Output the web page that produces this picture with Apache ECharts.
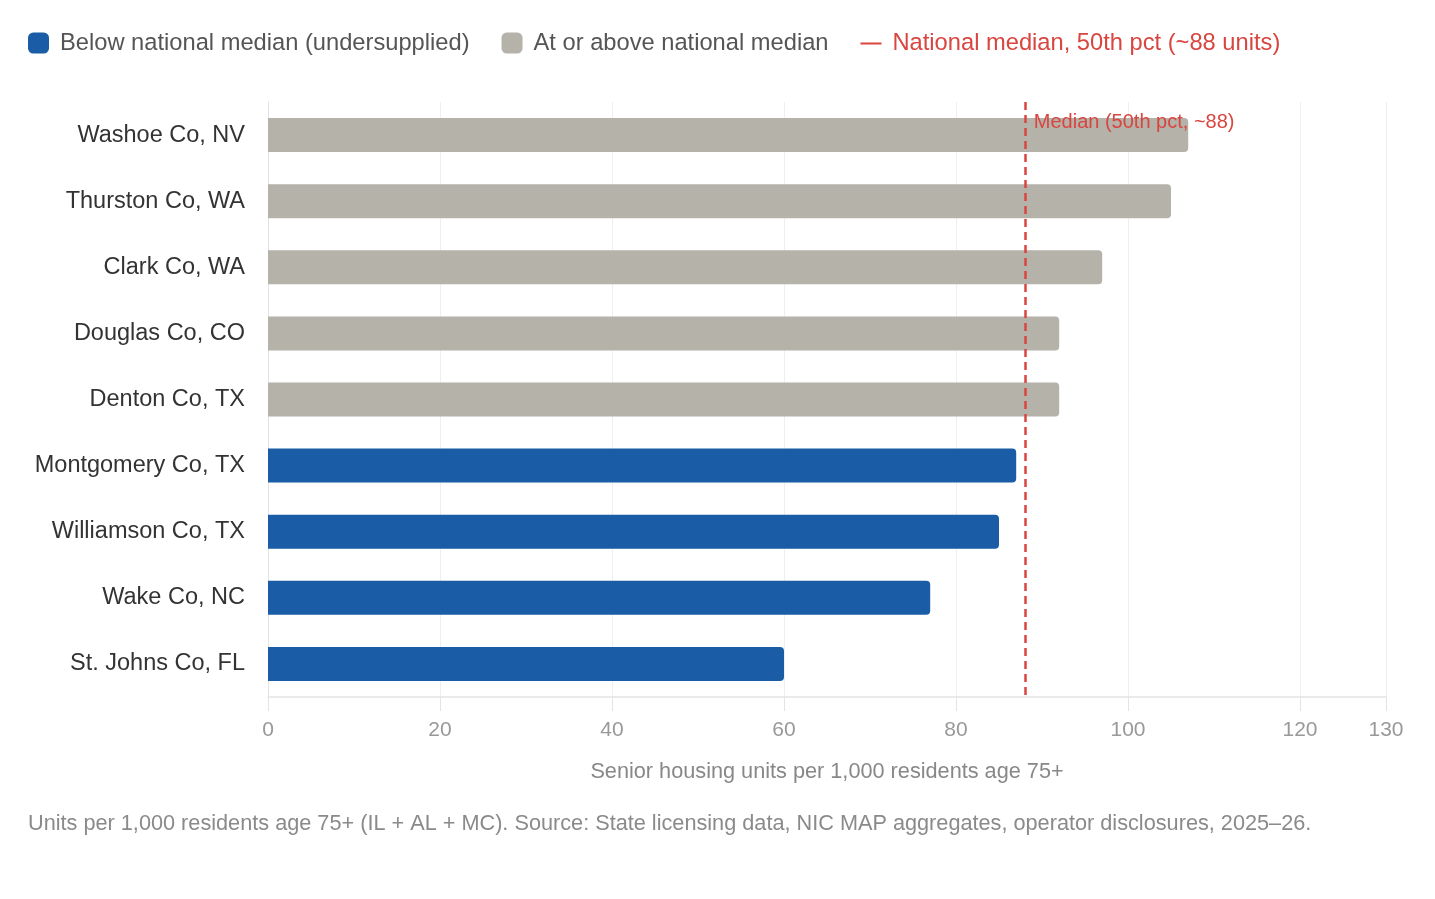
<!DOCTYPE html>
<html>
<head>
<meta charset="utf-8">
<script src="https://cdn.jsdelivr.net/npm/echarts@6/dist/echarts.min.js"></script>
<style>
  html, body { margin: 0; padding: 0; background: #fff; }
  #main { width: 1435px; height: 899px; }
</style>
</head>
<body>
<div id="main"></div>
<script>
// counties, top to bottom
const counties = ['Washoe Co, NV', 'Thurston Co, WA', 'Clark Co, WA', 'Douglas Co, CO', 'Denton Co, TX',
  'Montgomery Co, TX', 'Williamson Co, TX', 'Wake Co, NC', 'St. Johns Co, FL'];
// senior housing units per 1,000 residents age 75+
const units = [107, 105, 97, 92, 92, 87, 85, 77, 60];
const medianValue = 88;
const xTicks = [0, 20, 40, 60, 80, 100, 120, 130];

const belowName = 'Below national median (undersupplied)';
const aboveName = 'At or above national median';
const medianName = 'National median, 50th pct (~88 units)';

const FONT = '"Liberation Sans", Arial, Helvetica, sans-serif';
const BLUE = '#1a5da6';
const GREY = '#b5b2aa';
const RED = '#d9453f';

const chart = echarts.init(document.getElementById('main'));

const belowData = units.map(v => (v < medianValue ? v : null));
const aboveData = units.map(v => (v >= medianValue ? v : null));

const option = {
  backgroundColor: '#fff',
  animation: false,
  textStyle: { fontFamily: FONT },
  title: {
    text: 'Units per 1,000 residents age 75+ (IL + AL + MC). Source: State licensing data, NIC MAP aggregates, operator disclosures, 2025–26.',
    left: 28,
    top: 813,
    padding: 0,
    textStyle: { fontFamily: FONT, fontSize: 21.7, fontWeight: 'normal', color: '#8a8a8a' }
  },
  legend: {
    left: 28,
    top: 31,
    padding: 0,
    itemWidth: 21,
    itemHeight: 21,
    itemGap: 32,
    textStyle: { fontFamily: FONT, fontSize: 23.7, color: '#555', padding: [0, 0, 0, 6] },
    data: [
      { name: belowName, icon: 'roundRect' },
      { name: aboveName, icon: 'roundRect' },
      {
        name: medianName,
        icon: 'path://M0,0h0.05v0.05h-0.05z M0,10h22v2h-22z M21.95,20.95h0.05v0.05h-0.05z',
        itemStyle: { color: RED },
        textStyle: { color: RED }
      }
    ]
  },
  grid: { left: 268, right: 49, top: 102, bottom: 202 },
  xAxis: {
    type: 'value',
    min: 0,
    max: 130,
    interval: 20,
    name: 'Senior housing units per 1,000 residents age 75+',
    nameLocation: 'middle',
    nameGap: 64,
    nameTextStyle: { fontFamily: FONT, fontSize: 21.7, color: '#888' },
    axisLine: { show: true, lineStyle: { color: '#e3e3e3', width: 1.5 } },
    axisTick: { show: true, length: 14, lineStyle: { color: '#e3e3e3' } },
    axisLabel: {
      margin: 23,
      fontFamily: FONT,
      fontSize: 21,
      color: '#999',
      formatter: v => (xTicks.indexOf(v) >= 0 ? String(v) : '')
    },
    splitLine: { show: true, lineStyle: { color: '#efefef', width: 1 } }
  },
  yAxis: {
    type: 'category',
    inverse: true,
    data: counties,
    axisLine: { show: true, lineStyle: { color: '#e3e3e3' } },
    axisTick: { show: false },
    axisLabel: { margin: 23, fontFamily: FONT, fontSize: 23.5, color: '#333' }
  },
  series: [
    {
      name: belowName,
      type: 'bar',
      data: belowData,
      barWidth: 34,
      barGap: '-100%',
      itemStyle: { color: BLUE, borderRadius: [0, 4, 4, 0] }
    },
    {
      name: aboveName,
      type: 'bar',
      data: aboveData,
      barWidth: 34,
      barGap: '-100%',
      itemStyle: { color: GREY, borderRadius: [0, 4, 4, 0] },
      markPoint: {
        silent: true,
        symbol: 'circle',
        symbolSize: 0,
        z: 10,
        data: [{ coord: [medianValue, counties[0]] }],
        label: {
          show: true,
          position: 'right',
          distance: 9,
          offset: [0, -13],
          formatter: 'Median (50th pct, ~88)',
          fontFamily: FONT,
          fontSize: 20,
          color: RED
        }
      }
    },
    {
      name: medianName,
      type: 'line',
      data: [],
      itemStyle: { color: RED },
      lineStyle: { color: RED },
      z: 5,
      markLine: {
        silent: true,
        symbol: 'none',
        lineStyle: { color: RED, type: [8, 5], width: 2.5 },
        label: { show: false },
        data: [{ xAxis: medianValue }]
      }
    }
  ]
};

chart.setOption(option);
</script>
</body>
</html>
